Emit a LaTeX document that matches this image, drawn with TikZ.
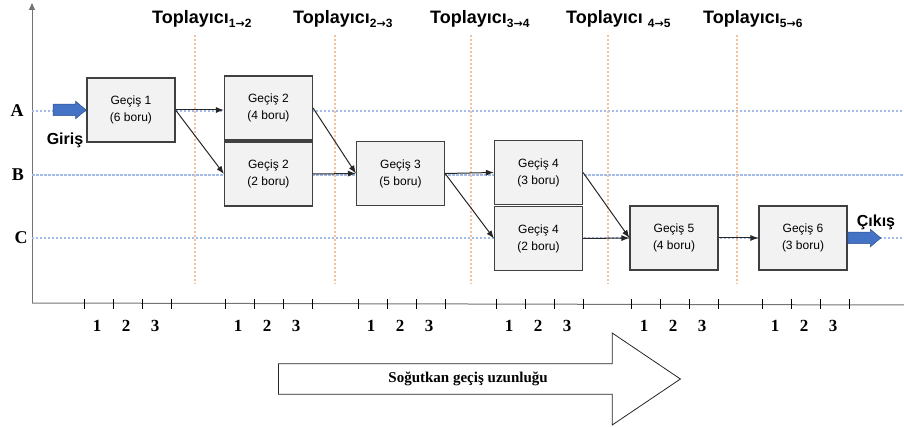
\documentclass[tikz,border=0pt]{standalone}
\usepackage{fontspec}
\setmainfont{Liberation Sans}
\newfontfamily\tnr{Liberation Serif}
\newfontfamily\arrowfont{DejaVu Sans}
\usepackage{tikz}
\usetikzlibrary{shapes,arrows.meta,positioning}
\definecolor{arrowblue}{HTML}{4472C4}
\definecolor{arrowedge}{HTML}{2F528F}
\definecolor{levelblue}{HTML}{A3BBE6}
\definecolor{collorange}{HTML}{F7C09A}
\definecolor{boxfill}{HTML}{F2F2F2}
\newcommand{\lowidx}[2]{\raisebox{-4pt}{\fontsize{12}{12}\selectfont #1{\arrowfont\bfseries\fontsize{11}{11}\selectfont →}#2}}
\tikzset{
    pass/.style = {rectangle, minimum width=88pt, minimum height=64pt, text centered, align=center, draw=black!75, fill=boxfill, line width=1.1pt, font=\fontsize{12}{17}\selectfont},
    flow/.style = {-{Latex[length=8pt,width=6pt]}, line width=1pt, draw=black!85},
    inout/.style = {single arrow, single arrow head extend=3pt, single arrow tip angle=80, minimum height=33pt, inner xsep=0pt, inner ysep=5.5pt, fill=arrowblue, draw=arrowedge, line width=0.5pt},
    portlabel/.style = {font=\bfseries\fontsize{16}{16}\selectfont, inner sep=0pt},
    level/.style = {font=\tnr\bfseries\fontsize{18}{18}\selectfont, inner sep=0pt},
    levelline/.style = {draw=levelblue, dash pattern=on 2.5pt off 1.5pt, line width=1.1pt},
    collector/.style = {draw=collorange, dash pattern=on 2.5pt off 1.5pt, line width=1.1pt},
    header/.style = {font=\bfseries\fontsize{18}{18}\selectfont, anchor=base west, inner sep=0pt},
    axis/.style = {draw=black!55, line width=1pt},
    ticklabel/.style = {font=\tnr\bfseries\fontsize{17}{17}\selectfont, inner sep=0pt},
    bigarrow/.style = {single arrow, single arrow head extend=21.5pt, single arrow tip angle=68, minimum height=402pt, minimum width=92pt, draw=black!85, line width=0.8pt, fill=white, font=\tnr\bfseries\fontsize{15}{15}\selectfont}
}

\begin{document}
\begin{tikzpicture}[x=1pt, y=-1pt]
    \useasboundingbox (0,0) rectangle (904,427);

    % Axes
    \coordinate (origin) at (32,303);
    \coordinate (ytip) at (32,3);
    \coordinate (xend) at (904,305);
    \draw [axis, -{Triangle[length=7pt,width=6pt]}] (origin) -- (ytip);
    \draw [axis] (origin) -- (xend);

    % Levels
    \node [level] (levA) at (17,111) {A};
    \node [level] (levB) at (18,175) {B};
    \node [level] (levC) at (21,238) {C};
    \draw [levelline] ([xshift=8pt]levA.east) -- (levA -| xend);
    \draw [levelline] ([xshift=8pt]levB.east) -- (levB -| xend);
    \draw [levelline] ([xshift=4pt]levC.east) -- (levC -| xend);

    % Collectors
    \foreach \x in {195,335,471,608,737}
        \draw [collector] (\x,35) -- (\x,284);
    \node [header] (top12) at (152,24) {Toplayıcı\lowidx{1}{2}};
    \node [header] (top23) at (293,24) {Toplayıcı\lowidx{2}{3}};
    \node [header] (top34) at (430,24) {Toplayıcı\lowidx{3}{4}};
    \node [header] (top45) at (566,24) {Toplayıcı \lowidx{4}{5}};
    \node [header] (top56) at (703,24) {Toplayıcı\lowidx{5}{6}};

    % Passes
    \node [pass] (g1) at (131,110) {Geçiş 1\\(6 boru)};
    \node [pass] (g2a) at (268.5,108) {Geçiş 2\\(4 boru)};
    \node [pass] (g2b) at (268.5,174) {Geçiş 2\\(2 boru)};
    \node [pass] (g3) at (400.5,173.5) {Geçiş 3\\(5 boru)};
    \node [pass] (g4a) at (538.5,172.5) {Geçiş 4\\(3 boru)};
    \node [pass] (g4b) at (538.5,238.5) {Geçiş 4\\(2 boru)};
    \node [pass] (g5) at (674,238) {Geçiş 5\\(4 boru)};
    \node [pass] (g6) at (803,238) {Geçiş 6\\(3 boru)};

    % Arrows
    \draw [flow] (g1.east) -- (g1.east -| g2a.west);
    \draw [flow] (g1.east) -- (g2b.west);
    \draw [flow] (g2a.east) -- (g3.west);
    \draw [flow] (g2b.east) -- (g3.west);
    \draw [flow] (g3.east) -- (g4a.west);
    \draw [flow] (g3.east) -- (g4b.west);
    \draw [flow] (g4a.east) -- (g5.west);
    \draw [flow] (g4b.east) -- (g5.west);
    \draw [flow] (g5.east) -- (g6.west);

    % In / out
    \node [inout, anchor=tip] (inarrow) at (g1.west) {};
    \node [portlabel] (giris) at (65,140) {Giriş};
    \node [inout, anchor=tail] (outarrow) at (g6.east) {};
    \node [portlabel] (cikis) at (876,222) {Çıkış};

    % Ticks
    \foreach \s in {84,225,358,496,631,762} {
        \foreach \k in {0,...,3}
            \draw [line width=0.8pt] (\s+29*\k,299) -- (\s+29*\k,309);
        \foreach \n in {1,2,3}
            \node [ticklabel] (t\s-\n) at (\s+29*\n-16,326) {\n};
    }

    % Coolant direction
    \node [bigarrow, anchor=tail] (coolant) at (278,379) {Soğutkan geçiş uzunluğu};
\end{tikzpicture}
\end{document}
